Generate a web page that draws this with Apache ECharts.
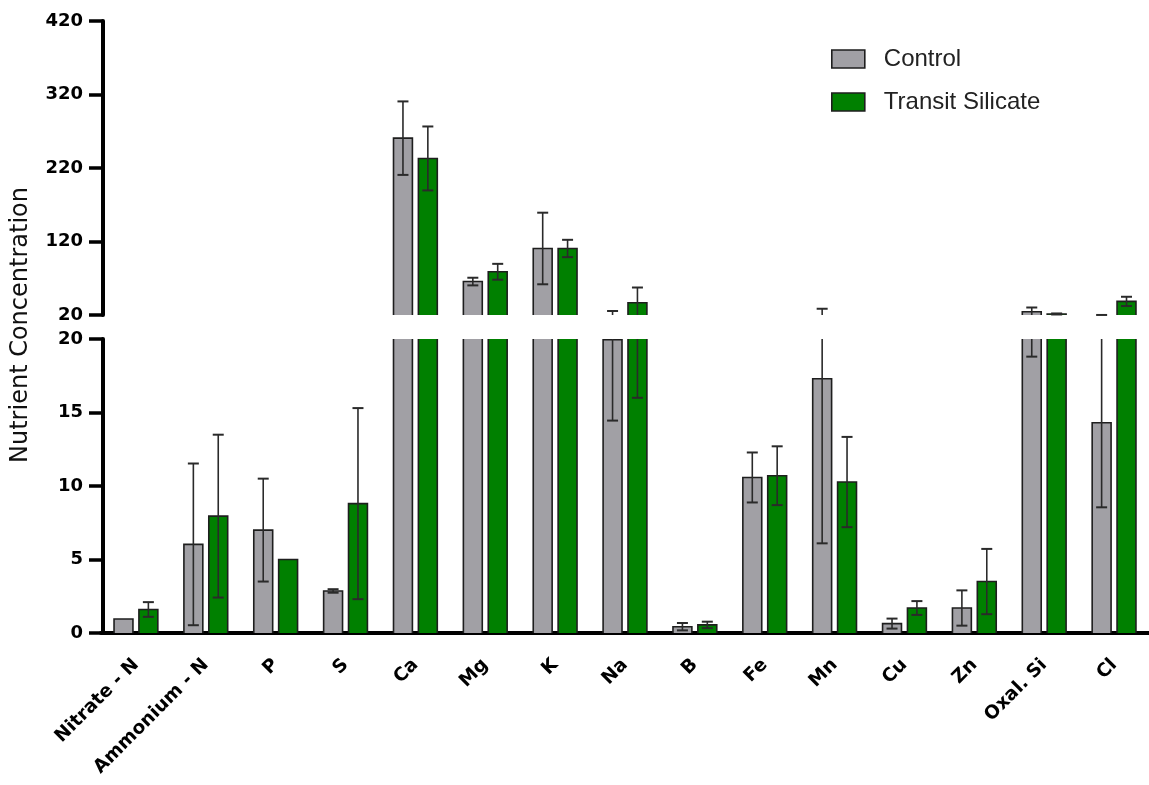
<!DOCTYPE html>
<html>
<head>
<meta charset="utf-8">
<script src="https://cdn.jsdelivr.net/npm/echarts@6/dist/echarts.min.js"></script>
<style>html,body{margin:0;padding:0;background:#fff;}#c{width:1149px;height:785px;}</style>
</head>
<body>
<div id="c"></div>
<script>
var categories = ['Nitrate - N','Ammonium - N','P','S','Ca','Mg','K','Na','B','Fe','Mn','Cu','Zn','Oxal. Si','Cl'];
var controlMean = [0.95, 6.03, 7.0, 2.86, 260.6, 65.5, 110.5, 19.95, 0.43, 10.58, 17.3, 0.64, 1.7, 24.5, 14.3];
var controlSD   = [0, 5.5, 3.5, 0.12, 50, 5.2, 48.7, 5.5, 0.25, 1.7, 11.2, 0.34, 1.2, 5.7, 5.75];
var transitMean = [1.6, 7.95, 5.0, 8.8, 233, 78.8, 110.5, 36.7, 0.55, 10.7, 10.27, 1.7, 3.5, 21.4, 38.5];
var transitSD   = [0.5, 5.54, 0, 6.5, 43.5, 10.8, 11.8, 20.7, 0.22, 2.0, 3.07, 0.47, 2.22, 0.7, 6.3];
var upperTicks = [20, 120, 220, 320, 420];
var lowerTicks = [0, 5, 10, 15, 20];

var GRAY = '#a1a0a5', GREEN = '#008000', EDGE = '#1e1e1e', ERR = '#2a2a2a';
var BAND = 70.2, OFF = 12.5, BW = 19;

function barRender(sign, color, lo, hi) {
  return function (params, api) {
    var i = api.value(0), v = api.value(1);
    if (!(v > lo)) return null;
    var band = api.size([1, 0])[0];
    var c = api.coord([i, lo]);
    var cx = c[0] + sign * OFF / BAND * band;
    var w = BW / BAND * band;
    var x0 = cx - w / 2, x1 = cx + w / 2;
    var yBase = c[1];
    var yTop = api.coord([i, Math.min(v, hi)])[1];
    var children = [{type: 'rect', shape: {x: x0, y: yTop, width: w, height: yBase - yTop}, style: {fill: color}}];
    var ls = {stroke: EDGE, lineWidth: 1.6, fill: null};
    if (v <= hi) {
      children.push({type: 'polyline', shape: {points: [[x0, yBase], [x0, yTop], [x1, yTop], [x1, yBase]]}, style: ls});
    } else {
      children.push({type: 'line', shape: {x1: x0, y1: yBase, x2: x0, y2: yTop}, style: ls});
      children.push({type: 'line', shape: {x1: x1, y1: yBase, x2: x1, y2: yTop}, style: ls});
    }
    return {type: 'group', children: children};
  };
}

function errRender(sign, lo, hi) {
  return function (params, api) {
    var i = api.value(0), m = api.value(1), s = api.value(2);
    if (!(s > 0)) return null;
    var top = m + s, bot = m - s;
    if (top <= lo || bot >= hi) return null;
    var band = api.size([1, 0])[0];
    var x = api.coord([i, m])[0] + sign * OFF / BAND * band;
    var yT = api.coord([i, Math.min(top, hi)])[1];
    var yB = api.coord([i, Math.max(bot, lo)])[1];
    var st = {stroke: ERR, lineWidth: 1.6};
    var ch = [{type: 'line', shape: {x1: x, y1: yT, x2: x, y2: yB}, style: st}];
    var cw = 5.5;
    if (top <= hi) ch.push({type: 'line', shape: {x1: x - cw, y1: yT, x2: x + cw, y2: yT}, style: {stroke: ERR, lineWidth: 2}});
    if (bot >= lo) ch.push({type: 'line', shape: {x1: x - cw, y1: yB, x2: x + cw, y2: yB}, style: {stroke: ERR, lineWidth: 2}});
    return {type: 'group', children: ch};
  };
}

function pairs(arr) { return arr.map(function (v, i) { return [i, v]; }); }
function triples(m, s) { return m.map(function (v, i) { return [i, v, s[i]]; }); }

var grids = [
  {lo: 20, hi: 420, ticks: upperTicks},
  {lo: 0, hi: 20, ticks: lowerTicks}
];

var series = [];
grids.forEach(function (g, gi) {
  series.push({name: 'Control', type: 'custom', xAxisIndex: gi, yAxisIndex: gi, itemStyle: {color: GRAY},
    renderItem: barRender(-1, GRAY, g.lo, g.hi), encode: {x: 0, y: 1}, data: pairs(controlMean), z: 2});
  series.push({name: 'Transit Silicate', type: 'custom', xAxisIndex: gi, yAxisIndex: gi, itemStyle: {color: GREEN},
    renderItem: barRender(1, GREEN, g.lo, g.hi), encode: {x: 0, y: 1}, data: pairs(transitMean), z: 2});
  series.push({name: 'Control SD', type: 'custom', xAxisIndex: gi, yAxisIndex: gi,
    renderItem: errRender(-1, g.lo, g.hi), encode: {x: 0, y: 1}, data: triples(controlMean, controlSD), z: 3});
  series.push({name: 'Transit SD', type: 'custom', xAxisIndex: gi, yAxisIndex: gi,
    renderItem: errRender(1, g.lo, g.hi), encode: {x: 0, y: 1}, data: triples(transitMean, transitSD), z: 3});
});

var labelStyle = {fontFamily: 'DejaVu Sans', fontWeight: 'bold', fontSize: 18, color: '#000'};

var option = {
  animation: false,
  backgroundColor: '#fff',
  grid: [
    {left: 101, width: 1053, top: 21, height: 294},
    {left: 101, width: 1053, top: 339, height: 294}
  ],
  xAxis: [
    {gridIndex: 0, type: 'category', data: categories, show: false},
    {gridIndex: 1, type: 'category', data: categories,
      axisLine: {lineStyle: {color: '#000', width: 4}},
      axisTick: {alignWithLabel: true, length: 14, lineStyle: {color: '#000', width: 4}},
      axisLabel: Object.assign({interval: 0, rotate: 45, margin: 29}, labelStyle, {fontSize: 18.5})}
  ],
  yAxis: [0, 1].map(function (gi) {
    var g = grids[gi];
    return {gridIndex: gi, type: 'value', min: g.lo, max: g.hi, interval: (g.hi - g.lo) / 4, offset: -2,
      splitLine: {show: false},
      axisLine: {show: true, lineStyle: {color: '#000', width: 4}},
      axisTick: {show: true, length: 14, lineStyle: {color: '#000', width: 3.5}},
      axisLabel: Object.assign({margin: 20, customValues: g.ticks}, labelStyle)};
  }),
  legend: {
    orient: 'vertical', left: 826, top: 42, itemWidth: 33, itemHeight: 18, itemGap: 19,
    textStyle: {fontFamily: 'Liberation Sans', fontSize: 24, color: '#222', padding: [0, 0, 0, 14], lineHeight: 18},
    data: [
      {name: 'Control', icon: 'rect', itemStyle: {color: GRAY, borderColor: EDGE, borderWidth: 1.6}},
      {name: 'Transit Silicate', icon: 'rect', itemStyle: {color: GREEN, borderColor: EDGE, borderWidth: 1.6}}
    ]
  },
  graphic: [{
    type: 'text', x: 21, y: 325, rotation: Math.PI / 2,
    style: {text: 'Nutrient Concentration', fontFamily: 'DejaVu Sans', fontSize: 24, fill: '#111',
      align: 'center', verticalAlign: 'middle'}
  }],
  series: series
};

var chart = echarts.init(document.getElementById('c'), null, {renderer: 'canvas'});
chart.setOption(option);
</script>
</body>
</html>
